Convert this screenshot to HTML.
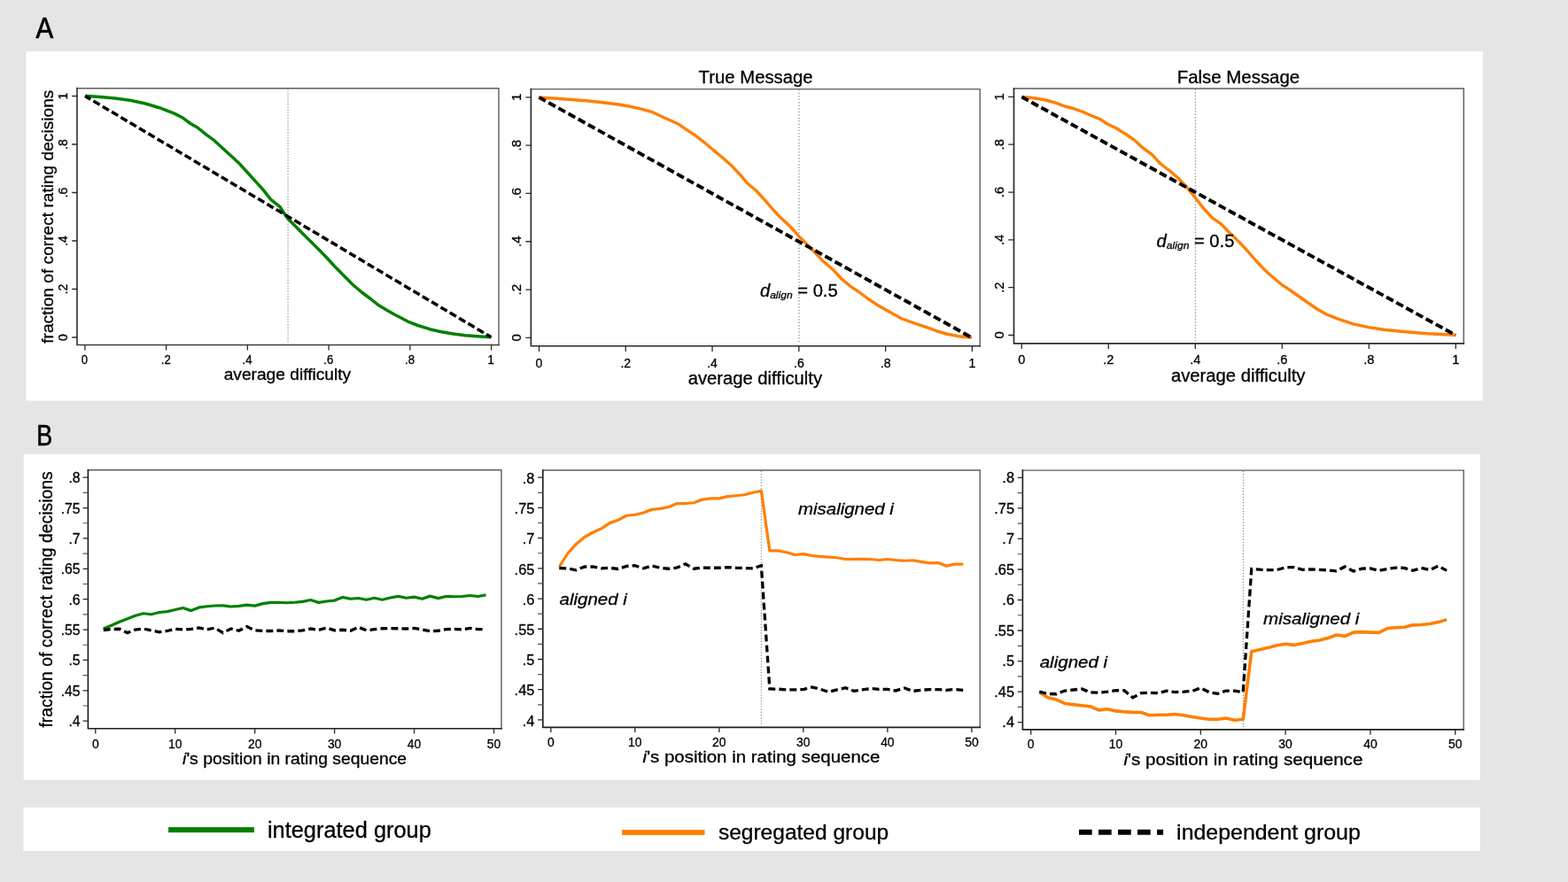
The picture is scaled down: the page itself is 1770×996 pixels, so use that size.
<!DOCTYPE html>
<html lang="en">
<head>
<meta charset="utf-8">
<title>Figure: fraction of correct rating decisions</title>
<style>
html,body{margin:0;padding:0;background:#e5e5e5;}
body{width:1770px;height:996px;overflow:hidden;}
svg{display:block;}
text{white-space:pre;stroke:#000;stroke-width:0.3px;}
</style>
</head>
<body>
<svg width="1770" height="996" viewBox="0 0 1770 996" font-family='"Liberation Sans", sans-serif' stroke-linejoin="round">
<rect x="0" y="0" width="1770" height="996" fill="#e5e5e5"/>
<rect x="29.3" y="58" width="1644.5" height="394.5" fill="#fff"/>
<rect x="26.7" y="512.8" width="1644" height="368" fill="#fff"/>
<rect x="26.4" y="911.8" width="1644.3" height="49.2" fill="#fff"/>
<text transform="translate(40.6 42.8) scale(0.8789 1.0000)" font-size="33.62" text-anchor="start" fill="#000" style="stroke-width:0.7px">A</text>
<text transform="translate(41.15 502.5) scale(0.8162 1.0000)" font-size="32.9" text-anchor="start" fill="#000" style="stroke-width:0.7px">B</text>
<path d="M87 99.7H563V389.5" fill="none" stroke="#5c5c5c" stroke-width="1.4" stroke-linecap="square"/>
<path d="M87 99.7V389.5H563" fill="none" stroke="#3c3c3c" stroke-width="1.7" stroke-linecap="square"/>
<line x1="325.1" y1="101.5" x2="325.1" y2="387" stroke="#9c9c9c" stroke-width="1.35" stroke-dasharray="1.3 1.85"/>
<path d="M96.2 108.3 L113.3 109.5 L130 110.9 L146.7 113.2 L163.3 116.8 L180 121.7 L196.7 128.1 L206.7 133.3 L215 139.5 L223.3 144.3 L233.3 152.3 L242.5 159.2 L251.7 167.8 L261.7 176.8 L270.8 185.3 L280 195.5 L288.3 204.6 L296.7 213.9 L305.8 225.3 L315.8 233.3 L321.7 242.3 L325 247 L333.3 255.3 L341.7 263.7 L350 272 L358.3 280.3 L366.7 288.8 L375 297.8 L380 303.1 L388.3 311.5 L398.3 321.5 L408.3 330 L418.3 337.5 L426.7 344.2 L436.7 350.3 L445 355 L453.3 359.2 L461.7 363.7 L471.7 367.5 L485 371.7 L498.3 374.7 L511.7 377 L525 378.7 L541.7 380 L554.4 380.8" fill="none" stroke="#008000" stroke-width="3.5" stroke-linejoin="round" stroke-linecap="butt"/>
<path d="M96 108.4 L554.5 380.8" fill="none" stroke="#000" stroke-width="3.5" stroke-dasharray="8.3 3.7" stroke-dashoffset="1" stroke-linejoin="miter"/>
<path d="M95.9 389.5V395.4M187.64 389.5V395.4M279.38 389.5V395.4M371.12 389.5V395.4M462.86 389.5V395.4M554.6 389.5V395.4" stroke="#2b2b2b" stroke-width="1.3" fill="none"/>
<text transform="translate(95.5 410.9) scale(0.9400 1.0000)" font-size="14" text-anchor="middle" fill="#000">0</text>
<text transform="translate(187.24 410.9) scale(0.9400 1.0000)" font-size="14" text-anchor="middle" fill="#000">.2</text>
<text transform="translate(278.98 410.9) scale(0.9400 1.0000)" font-size="14" text-anchor="middle" fill="#000">.4</text>
<text transform="translate(370.72 410.9) scale(0.9400 1.0000)" font-size="14" text-anchor="middle" fill="#000">.6</text>
<text transform="translate(462.46 410.9) scale(0.9400 1.0000)" font-size="14" text-anchor="middle" fill="#000">.8</text>
<text transform="translate(554.2 410.9) scale(0.9400 1.0000)" font-size="14" text-anchor="middle" fill="#000">1</text>
<path d="M81.2 381H87M81.2 326.5H87M81.2 272H87M81.2 217.5H87M81.2 163H87M81.2 108.5H87" stroke="#2b2b2b" stroke-width="1.3" fill="none"/>
<text transform="translate(76.3 381) rotate(-90) scale(1.0000 1.0300)" font-size="14" text-anchor="middle" fill="#000">0</text>
<text transform="translate(76.3 326.5) rotate(-90) scale(1.0000 1.0300)" font-size="14" text-anchor="middle" fill="#000">.2</text>
<text transform="translate(76.3 272) rotate(-90) scale(1.0000 1.0300)" font-size="14" text-anchor="middle" fill="#000">.4</text>
<text transform="translate(76.3 217.5) rotate(-90) scale(1.0000 1.0300)" font-size="14" text-anchor="middle" fill="#000">.6</text>
<text transform="translate(76.3 163) rotate(-90) scale(1.0000 1.0300)" font-size="14" text-anchor="middle" fill="#000">.8</text>
<text transform="translate(76.3 108.5) rotate(-90) scale(1.0000 1.0300)" font-size="14" text-anchor="middle" fill="#000">1</text>
<text transform="translate(252.63 429.4) scale(1.0654 1.0000)" font-size="18.01" text-anchor="start" fill="#000">average difficulty</text>
<text transform="translate(59.7 387.79) rotate(-90) scale(1.0000 0.9870)" font-size="19.15" text-anchor="start" fill="#000">fraction of correct rating decisions</text>
<path d="M599.4 100.6H1106.2V390.75" fill="none" stroke="#5c5c5c" stroke-width="1.4" stroke-linecap="square"/>
<path d="M599.4 100.6V390.75H1106.2" fill="none" stroke="#2b2b2b" stroke-width="1.7" stroke-linecap="square"/>
<line x1="902" y1="101.3" x2="902" y2="388" stroke="#8a8a8a" stroke-width="1.3" stroke-dasharray="1.3 2.2"/>
<path d="M608.5 110 L628.3 111.3 L645 112.5 L661.7 113.8 L678.3 115.5 L698.3 118 L711.7 120.3 L725 123.3 L736.7 126.7 L750 133 L765 139.7 L775 146.3 L785 153 L795 160.8 L805 169.2 L815 177.5 L825 186.3 L835 196.7 L843.3 206.7 L853.3 215 L863.3 225.8 L873.3 237.5 L881.7 246.3 L891.7 255.5 L901.7 266.7 L910 275 L918.3 283.3 L928.3 294.2 L940 304.2 L950 315 L960 323.3 L970 330 L980 337.5 L990 344.2 L1003.3 351.7 L1018.3 360 L1033.3 365.3 L1048.3 370.3 L1058.3 374.2 L1068.3 377 L1081.7 379.7 L1097.2 381.3" fill="none" stroke="#ff7f00" stroke-width="3.4" stroke-linejoin="round" stroke-linecap="butt"/>
<path d="M608.4 109.9 L1097.3 381.4" fill="none" stroke="#000" stroke-width="3.9" stroke-dasharray="8.8 3.95" stroke-dashoffset="0.3" stroke-linejoin="miter"/>
<path d="M608.5 390.8V396.9M706.28 390.8V396.9M804.06 390.8V396.9M901.84 390.8V396.9M999.62 390.8V396.9M1097.4 390.8V396.9" stroke="#2b2b2b" stroke-width="1.3" fill="none"/>
<text transform="translate(608.5 414.5) scale(0.9200 1.0000)" font-size="15.3" text-anchor="middle" fill="#000">0</text>
<text transform="translate(706.28 414.5) scale(0.9200 1.0000)" font-size="15.3" text-anchor="middle" fill="#000">.2</text>
<text transform="translate(804.06 414.5) scale(0.9200 1.0000)" font-size="15.3" text-anchor="middle" fill="#000">.4</text>
<text transform="translate(901.84 414.5) scale(0.9200 1.0000)" font-size="15.3" text-anchor="middle" fill="#000">.6</text>
<text transform="translate(999.62 414.5) scale(0.9200 1.0000)" font-size="15.3" text-anchor="middle" fill="#000">.8</text>
<text transform="translate(1097.4 414.5) scale(0.9200 1.0000)" font-size="15.3" text-anchor="middle" fill="#000">1</text>
<path d="M593.4 381.4H599.4M593.4 327.08H599.4M593.4 272.76H599.4M593.4 218.44H599.4M593.4 164.12H599.4M593.4 109.8H599.4" stroke="#2b2b2b" stroke-width="1.3" fill="none"/>
<text transform="translate(588 381.4) rotate(-90) scale(1.0000 1.0000)" font-size="15.2" text-anchor="middle" fill="#000">0</text>
<text transform="translate(588 327.08) rotate(-90) scale(1.0000 1.0000)" font-size="15.2" text-anchor="middle" fill="#000">.2</text>
<text transform="translate(588 272.76) rotate(-90) scale(1.0000 1.0000)" font-size="15.2" text-anchor="middle" fill="#000">.4</text>
<text transform="translate(588 218.44) rotate(-90) scale(1.0000 1.0000)" font-size="15.2" text-anchor="middle" fill="#000">.6</text>
<text transform="translate(588 164.12) rotate(-90) scale(1.0000 1.0000)" font-size="15.2" text-anchor="middle" fill="#000">.8</text>
<text transform="translate(588 109.8) rotate(-90) scale(1.0000 1.0000)" font-size="15.2" text-anchor="middle" fill="#000">1</text>
<text transform="translate(776.69 434.4) scale(1.0253 1.0000)" font-size="19.73" text-anchor="start" fill="#000">average difficulty</text>
<text transform="translate(788.59 93.75) scale(0.9764 1.0000)" font-size="20.8" text-anchor="start" fill="#000">True Message</text>
<path d="M1144.5 100H1652.3V387.95" fill="none" stroke="#5c5c5c" stroke-width="1.4" stroke-linecap="square"/>
<path d="M1144.5 100V387.95H1652.3" fill="none" stroke="#2b2b2b" stroke-width="1.7" stroke-linecap="square"/>
<line x1="1349.4" y1="100.8" x2="1349.4" y2="385" stroke="#8a8a8a" stroke-width="1.3" stroke-dasharray="1.3 2.2"/>
<path d="M1153.5 109.5 L1165 110.5 L1178.3 112.5 L1191.7 116.2 L1201.7 120 L1211.7 122.5 L1223.3 126.7 L1233.3 131.2 L1241.7 134.5 L1250 140 L1260 144.7 L1271.7 152 L1281.7 159.2 L1290 167 L1300 174.2 L1310 185 L1320 192.5 L1330 201.3 L1340 211.7 L1350 224.2 L1358.3 235 L1368.3 245.8 L1378.3 252.8 L1386.7 261.7 L1395 269.6 L1401.7 276.3 L1408.3 283.5 L1418.3 295 L1428.3 305.5 L1436.7 313 L1446.7 321.3 L1456.7 328 L1466.7 335 L1476.7 342 L1486.7 349 L1497.5 355 L1511.7 360.6 L1527.5 365.8 L1545 369.6 L1562 372.2 L1587 374.7 L1611.7 376.7 L1643 378.3" fill="none" stroke="#ff7f00" stroke-width="3.4" stroke-linejoin="round" stroke-linecap="butt"/>
<path d="M1153.4 109.5 L1643.3 378.5" fill="none" stroke="#000" stroke-width="3.9" stroke-dasharray="8.8 3.9" stroke-dashoffset="0.3" stroke-linejoin="miter"/>
<path d="M1153.3 387.95V393.95M1251.3 387.95V393.95M1349.3 387.95V393.95M1447.3 387.95V393.95M1545.3 387.95V393.95M1643.3 387.95V393.95" stroke="#2b2b2b" stroke-width="1.3" fill="none"/>
<text transform="translate(1153.3 411.3) scale(0.9500 1.0000)" font-size="15.3" text-anchor="middle" fill="#000">0</text>
<text transform="translate(1251.3 411.3) scale(0.9500 1.0000)" font-size="15.3" text-anchor="middle" fill="#000">.2</text>
<text transform="translate(1349.3 411.3) scale(0.9500 1.0000)" font-size="15.3" text-anchor="middle" fill="#000">.4</text>
<text transform="translate(1447.3 411.3) scale(0.9500 1.0000)" font-size="15.3" text-anchor="middle" fill="#000">.6</text>
<text transform="translate(1545.3 411.3) scale(0.9500 1.0000)" font-size="15.3" text-anchor="middle" fill="#000">.8</text>
<text transform="translate(1643.3 411.3) scale(0.9500 1.0000)" font-size="15.3" text-anchor="middle" fill="#000">1</text>
<path d="M1138.2 378.5H1144.5M1138.2 324.68H1144.5M1138.2 270.86H1144.5M1138.2 217.04H1144.5M1138.2 163.22H1144.5M1138.2 109.4H1144.5" stroke="#2b2b2b" stroke-width="1.3" fill="none"/>
<text transform="translate(1133 378.5) rotate(-90) scale(1.0000 1.0500)" font-size="14.8" text-anchor="middle" fill="#000">0</text>
<text transform="translate(1133 324.68) rotate(-90) scale(1.0000 1.0500)" font-size="14.8" text-anchor="middle" fill="#000">.2</text>
<text transform="translate(1133 270.86) rotate(-90) scale(1.0000 1.0500)" font-size="14.8" text-anchor="middle" fill="#000">.4</text>
<text transform="translate(1133 217.04) rotate(-90) scale(1.0000 1.0500)" font-size="14.8" text-anchor="middle" fill="#000">.6</text>
<text transform="translate(1133 163.22) rotate(-90) scale(1.0000 1.0500)" font-size="14.8" text-anchor="middle" fill="#000">.8</text>
<text transform="translate(1133 109.4) rotate(-90) scale(1.0000 1.0500)" font-size="14.8" text-anchor="middle" fill="#000">1</text>
<text transform="translate(1321.94 431) scale(1.0264 1.0000)" font-size="19.73" text-anchor="start" fill="#000">average difficulty</text>
<text transform="translate(1328.77 93.5) scale(1.0289 1.0000)" font-size="19.86" text-anchor="start" fill="#000">False Message</text>
<text transform="translate(857.9 334.9) scale(1.0400 1.0000)" font-size="19.4" text-anchor="start" fill="#000"><tspan font-style="italic">d</tspan><tspan font-style="italic" font-size="11.64" dy="2.13">align</tspan><tspan dy="-2.13"> = 0.5</tspan></text>
<text transform="translate(1305.6 279.2) scale(1.0400 1.0000)" font-size="19.4" text-anchor="start" fill="#000"><tspan font-style="italic">d</tspan><tspan font-style="italic" font-size="11.64" dy="2.13">align</tspan><tspan dy="-2.13"> = 0.5</tspan></text>
<path d="M99.4 530.8H566V822.7" fill="none" stroke="#5c5c5c" stroke-width="1.4" stroke-linecap="square"/>
<path d="M99.4 530.8V822.7H566" fill="none" stroke="#1e1e1e" stroke-width="1.65" stroke-linecap="square"/>
<path d="M93.6 814.2H99.4M93.6 779.83H99.4M93.6 745.45H99.4M93.6 711.08H99.4M93.6 676.7H99.4M93.6 642.33H99.4M93.6 607.95H99.4M93.6 573.58H99.4M93.6 539.2H99.4" stroke="#2b2b2b" stroke-width="1.3" fill="none"/>
<path d="M93.6 797.01H99.4M93.6 762.64H99.4M93.6 728.26H99.4M93.6 693.89H99.4M93.6 659.51H99.4M93.6 625.14H99.4M93.6 590.76H99.4M93.6 556.39H99.4" stroke="#555" stroke-width="1.17" fill="none"/>
<text transform="translate(90.6 820.2) scale(0.9300 1.0000)" font-size="17" text-anchor="end" fill="#000">.4</text>
<text transform="translate(90.6 785.83) scale(0.9300 1.0000)" font-size="17" text-anchor="end" fill="#000">.45</text>
<text transform="translate(90.6 751.45) scale(0.9300 1.0000)" font-size="17" text-anchor="end" fill="#000">.5</text>
<text transform="translate(90.6 717.08) scale(0.9300 1.0000)" font-size="17" text-anchor="end" fill="#000">.55</text>
<text transform="translate(90.6 682.7) scale(0.9300 1.0000)" font-size="17" text-anchor="end" fill="#000">.6</text>
<text transform="translate(90.6 648.33) scale(0.9300 1.0000)" font-size="17" text-anchor="end" fill="#000">.65</text>
<text transform="translate(90.6 613.95) scale(0.9300 1.0000)" font-size="17" text-anchor="end" fill="#000">.7</text>
<text transform="translate(90.6 579.58) scale(0.9300 1.0000)" font-size="17" text-anchor="end" fill="#000">.75</text>
<text transform="translate(90.6 545.2) scale(0.9300 1.0000)" font-size="17" text-anchor="end" fill="#000">.8</text>
<path d="M107.8 822.7V828.5M197.74 822.7V828.5M287.68 822.7V828.5M377.62 822.7V828.5M467.56 822.7V828.5M557.5 822.7V828.5" stroke="#2b2b2b" stroke-width="1.3" fill="none"/>
<text transform="translate(107.8 844.6) scale(0.9600 1.0000)" font-size="14.5" text-anchor="middle" fill="#000">0</text>
<text transform="translate(197.74 844.6) scale(0.9600 1.0000)" font-size="14.5" text-anchor="middle" fill="#000">10</text>
<text transform="translate(287.68 844.6) scale(0.9600 1.0000)" font-size="14.5" text-anchor="middle" fill="#000">20</text>
<text transform="translate(377.62 844.6) scale(0.9600 1.0000)" font-size="14.5" text-anchor="middle" fill="#000">30</text>
<text transform="translate(467.56 844.6) scale(0.9600 1.0000)" font-size="14.5" text-anchor="middle" fill="#000">40</text>
<text transform="translate(557.5 844.6) scale(0.9600 1.0000)" font-size="14.5" text-anchor="middle" fill="#000">50</text>
<text transform="translate(206.11 863) scale(1.0465 1.0000)" font-size="18.49" text-anchor="start" fill="#000"><tspan font-style="italic">i</tspan>'s position in rating sequence</text>
<path d="M116.79 710 L125.79 706.25 L134.78 702.25 L143.78 698.75 L152.77 695.25 L161.76 692.75 L170.76 693.75 L179.75 691.5 L188.75 690.62 L197.74 688.5 L206.73 686.5 L215.73 689.62 L224.72 685.88 L233.72 684.75 L242.71 684 L251.7 683.75 L260.7 685 L269.69 684.38 L278.69 683.12 L287.68 684.12 L296.67 681.62 L305.67 680.38 L314.66 680.25 L323.66 680.75 L332.65 680.25 L341.64 679.38 L350.64 677.5 L359.63 680.38 L368.63 679 L377.62 678.12 L386.61 674.38 L395.61 676.25 L404.6 675.5 L413.6 677.25 L422.59 675.25 L431.58 677.25 L440.58 675 L449.57 673.38 L458.57 675.25 L467.56 674.12 L476.55 676.25 L485.55 673.12 L494.54 675.62 L503.54 673.5 L512.53 673.75 L521.52 673.5 L530.52 672.5 L539.51 673.5 L548.51 671.88" fill="none" stroke="#008000" stroke-width="3.25" stroke-linejoin="round" stroke-linecap="butt"/>
<path d="M116.79 711.5 L125.79 710.62 L134.78 710.25 L143.78 714.62 L152.77 711 L161.76 710 L170.76 711.88 L179.75 713.75 L188.75 712.5 L197.74 710.25 L206.73 711 L215.73 710.38 L224.72 709 L233.72 711 L242.71 709 L251.7 714.62 L260.7 710 L269.69 712.25 L278.69 707.5 L287.68 711.88 L296.67 712.5 L305.67 712.5 L314.66 712 L323.66 712.75 L332.65 712.75 L341.64 711.88 L350.64 710 L359.63 711.5 L368.63 709 L377.62 711.88 L386.61 711.25 L395.61 712.25 L404.6 708.25 L413.6 711.88 L422.59 710.62 L431.58 709.75 L440.58 709.62 L449.57 709.75 L458.57 710 L467.56 709.38 L476.55 710.88 L485.55 712.75 L494.54 712.25 L503.54 710.62 L512.53 710.38 L521.52 711 L530.52 709.38 L539.51 710.62 L548.51 710.62" fill="none" stroke="#000" stroke-width="3.3" stroke-dasharray="7.9 4.1" stroke-dashoffset="0" stroke-linejoin="miter"/>
<text transform="translate(58.9 821.59) rotate(-90) scale(1.0000 0.9983)" font-size="19.35" text-anchor="start" fill="#000">fraction of correct rating decisions</text>
<path d="M612.8 531H1106.2V821.3" fill="none" stroke="#5c5c5c" stroke-width="1.4" stroke-linecap="square"/>
<path d="M612.8 531V821.3H1106.2" fill="none" stroke="#1e1e1e" stroke-width="1.65" stroke-linecap="square"/>
<path d="M607 812.9H612.8M607 778.69H612.8M607 744.48H612.8M607 710.26H612.8M607 676.05H612.8M607 641.84H612.8M607 607.62H612.8M607 573.41H612.8M607 539.2H612.8" stroke="#2b2b2b" stroke-width="1.3" fill="none"/>
<path d="M607 795.79H612.8M607 761.58H612.8M607 727.37H612.8M607 693.16H612.8M607 658.94H612.8M607 624.73H612.8M607 590.52H612.8M607 556.31H612.8" stroke="#555" stroke-width="1.17" fill="none"/>
<text transform="translate(603.4 819.7) scale(0.9900 1.0000)" font-size="16.6" text-anchor="end" fill="#000">.4</text>
<text transform="translate(603.4 785.49) scale(0.9900 1.0000)" font-size="16.6" text-anchor="end" fill="#000">.45</text>
<text transform="translate(603.4 751.27) scale(0.9900 1.0000)" font-size="16.6" text-anchor="end" fill="#000">.5</text>
<text transform="translate(603.4 717.06) scale(0.9900 1.0000)" font-size="16.6" text-anchor="end" fill="#000">.55</text>
<text transform="translate(603.4 682.85) scale(0.9900 1.0000)" font-size="16.6" text-anchor="end" fill="#000">.6</text>
<text transform="translate(603.4 648.64) scale(0.9900 1.0000)" font-size="16.6" text-anchor="end" fill="#000">.65</text>
<text transform="translate(603.4 614.42) scale(0.9900 1.0000)" font-size="16.6" text-anchor="end" fill="#000">.7</text>
<text transform="translate(603.4 580.21) scale(0.9900 1.0000)" font-size="16.6" text-anchor="end" fill="#000">.75</text>
<text transform="translate(603.4 546) scale(0.9900 1.0000)" font-size="16.6" text-anchor="end" fill="#000">.8</text>
<path d="M621.8 821.3V827.1M716.82 821.3V827.1M811.84 821.3V827.1M906.86 821.3V827.1M1001.88 821.3V827.1M1096.9 821.3V827.1" stroke="#2b2b2b" stroke-width="1.3" fill="none"/>
<text transform="translate(621.8 843) scale(0.9600 1.0000)" font-size="14.5" text-anchor="middle" fill="#000">0</text>
<text transform="translate(716.82 843) scale(0.9600 1.0000)" font-size="14.5" text-anchor="middle" fill="#000">10</text>
<text transform="translate(811.84 843) scale(0.9600 1.0000)" font-size="14.5" text-anchor="middle" fill="#000">20</text>
<text transform="translate(906.86 843) scale(0.9600 1.0000)" font-size="14.5" text-anchor="middle" fill="#000">30</text>
<text transform="translate(1001.88 843) scale(0.9600 1.0000)" font-size="14.5" text-anchor="middle" fill="#000">40</text>
<text transform="translate(1096.9 843) scale(0.9600 1.0000)" font-size="14.5" text-anchor="middle" fill="#000">50</text>
<text transform="translate(725.6 861.2) scale(1.1066 1.0000)" font-size="18.49" text-anchor="start" fill="#000"><tspan font-style="italic">i</tspan>'s position in rating sequence</text>
<line x1="859.4" y1="531.8" x2="859.4" y2="819" stroke="#909090" stroke-width="1.3" stroke-dasharray="1.2 2.0"/>
<path d="M631.3 640 L640.8 625 L650.31 614.38 L659.81 606.5 L669.31 601.25 L678.81 596.88 L688.31 590.62 L697.82 587.25 L707.32 582.25 L716.82 581.25 L726.32 579 L735.82 575.38 L745.33 574.38 L754.83 572.5 L764.33 568.5 L773.83 568.5 L783.33 567.75 L792.84 564.12 L802.34 562.88 L811.84 562.88 L821.34 560.62 L830.84 559.75 L840.35 558.75 L849.85 556.25 L859.35 554.38 L868.85 621.88 L878.35 621.88 L887.86 623.75 L897.36 626.5 L906.86 625.62 L916.36 627.5 L925.86 628.38 L935.37 629.12 L944.87 629.75 L954.37 631.5 L963.87 631.25 L973.37 631.25 L982.88 631.5 L992.38 632.5 L1001.88 631.5 L1011.38 632.5 L1020.88 633.25 L1030.39 632.75 L1039.89 634.38 L1049.39 635.88 L1058.89 635.5 L1068.39 639.12 L1077.9 637 L1087.4 637" fill="none" stroke="#ff7f00" stroke-width="3.25" stroke-linejoin="round" stroke-linecap="butt"/>
<path d="M631.3 641.5 L640.8 641.88 L650.31 643.75 L659.81 640 L669.31 640 L678.81 641.88 L688.31 641.25 L697.82 642.5 L707.32 639.38 L716.82 638.75 L726.32 641.88 L735.82 639 L745.33 641.25 L754.83 642.25 L764.33 641 L773.83 636.88 L783.33 642.25 L792.84 641 L802.34 641.25 L811.84 641.25 L821.34 640.62 L830.84 641.25 L840.35 641.5 L849.85 641.88 L859.35 638.75 L868.85 777.88 L878.35 778.17 L887.86 778.91 L897.36 778.91 L906.86 778.61 L916.36 775.96 L925.86 778.17 L935.37 781.42 L944.87 778.91 L954.37 776.7 L963.87 780.38 L973.37 778.91 L982.88 777.43 L992.38 778.47 L1001.88 778.47 L1011.38 779.94 L1020.88 776.99 L1030.39 780.38 L1039.89 779.2 L1049.39 778.61 L1058.89 778.61 L1068.39 779.35 L1077.9 778.47 L1087.4 779.35" fill="none" stroke="#000" stroke-width="3.3" stroke-dasharray="7.9 4.1" stroke-dashoffset="0" stroke-linejoin="miter"/>
<text transform="translate(901.1 580.6) scale(1.0872 1.0000)" font-size="18.77" text-anchor="start" font-style="italic" fill="#000">misaligned i</text>
<text transform="translate(631.49 683.1) scale(1.0934 1.0000)" font-size="18.77" text-anchor="start" font-style="italic" fill="#000">aligned i</text>
<path d="M1154.4 531.1H1652.2V823.9" fill="none" stroke="#5c5c5c" stroke-width="1.4" stroke-linecap="square"/>
<path d="M1154.4 531.1V823.9H1652.2" fill="none" stroke="#1e1e1e" stroke-width="1.65" stroke-linecap="square"/>
<path d="M1148.6 815.6H1154.4M1148.6 781.08H1154.4M1148.6 746.55H1154.4M1148.6 712.02H1154.4M1148.6 677.5H1154.4M1148.6 642.98H1154.4M1148.6 608.45H1154.4M1148.6 573.92H1154.4M1148.6 539.4H1154.4" stroke="#2b2b2b" stroke-width="1.3" fill="none"/>
<path d="M1148.6 798.34H1154.4M1148.6 763.81H1154.4M1148.6 729.29H1154.4M1148.6 694.76H1154.4M1148.6 660.24H1154.4M1148.6 625.71H1154.4M1148.6 591.19H1154.4M1148.6 556.66H1154.4" stroke="#555" stroke-width="1.17" fill="none"/>
<text transform="translate(1145 821.4) scale(1.0300 1.0000)" font-size="15.9" text-anchor="end" fill="#000">.4</text>
<text transform="translate(1145 786.88) scale(1.0300 1.0000)" font-size="15.9" text-anchor="end" fill="#000">.45</text>
<text transform="translate(1145 752.35) scale(1.0300 1.0000)" font-size="15.9" text-anchor="end" fill="#000">.5</text>
<text transform="translate(1145 717.82) scale(1.0300 1.0000)" font-size="15.9" text-anchor="end" fill="#000">.55</text>
<text transform="translate(1145 683.3) scale(1.0300 1.0000)" font-size="15.9" text-anchor="end" fill="#000">.6</text>
<text transform="translate(1145 648.77) scale(1.0300 1.0000)" font-size="15.9" text-anchor="end" fill="#000">.65</text>
<text transform="translate(1145 614.25) scale(1.0300 1.0000)" font-size="15.9" text-anchor="end" fill="#000">.7</text>
<text transform="translate(1145 579.72) scale(1.0300 1.0000)" font-size="15.9" text-anchor="end" fill="#000">.75</text>
<text transform="translate(1145 545.2) scale(1.0300 1.0000)" font-size="15.9" text-anchor="end" fill="#000">.8</text>
<path d="M1163.7 823.9V829.7M1259.5 823.9V829.7M1355.3 823.9V829.7M1451.1 823.9V829.7M1546.9 823.9V829.7M1642.7 823.9V829.7" stroke="#2b2b2b" stroke-width="1.3" fill="none"/>
<text transform="translate(1163.7 845.4) scale(0.9600 1.0000)" font-size="14.5" text-anchor="middle" fill="#000">0</text>
<text transform="translate(1259.5 845.4) scale(0.9600 1.0000)" font-size="14.5" text-anchor="middle" fill="#000">10</text>
<text transform="translate(1355.3 845.4) scale(0.9600 1.0000)" font-size="14.5" text-anchor="middle" fill="#000">20</text>
<text transform="translate(1451.1 845.4) scale(0.9600 1.0000)" font-size="14.5" text-anchor="middle" fill="#000">30</text>
<text transform="translate(1546.9 845.4) scale(0.9600 1.0000)" font-size="14.5" text-anchor="middle" fill="#000">40</text>
<text transform="translate(1642.7 845.4) scale(0.9600 1.0000)" font-size="14.5" text-anchor="middle" fill="#000">50</text>
<text transform="translate(1268.39 864.2) scale(1.0995 1.0000)" font-size="18.77" text-anchor="start" fill="#000"><tspan font-style="italic">i</tspan>'s position in rating sequence</text>
<line x1="1403.4" y1="531.9" x2="1403.4" y2="821.5" stroke="#909090" stroke-width="1.3" stroke-dasharray="1.2 2.0"/>
<path d="M1173.28 781.65 L1182.86 787.85 L1192.44 790.06 L1202.02 794.48 L1211.6 795.66 L1221.18 796.7 L1230.76 797.73 L1240.34 801.86 L1249.92 800.83 L1259.5 802.89 L1269.08 803.78 L1278.66 804.37 L1288.24 804.51 L1297.82 807.76 L1307.4 807.32 L1316.98 807.32 L1326.56 806.58 L1336.14 807.76 L1345.72 809.53 L1355.3 811 L1364.88 812.18 L1374.46 812.18 L1384.04 811 L1393.62 813.22 L1403.2 812.18 L1412.78 735.78 L1422.36 733.57 L1431.94 731.36 L1441.52 728.7 L1451.1 727.23 L1460.68 728.41 L1470.26 726.49 L1479.84 724.28 L1489.42 722.95 L1499 720.59 L1508.58 717.05 L1518.16 718.38 L1527.74 714.1 L1537.32 713.66 L1546.9 714.1 L1556.48 714.4 L1566.06 709.53 L1575.64 708.79 L1585.22 708.2 L1594.8 705.84 L1604.38 705.55 L1613.96 704.51 L1623.54 702.6 L1633.12 699.65" fill="none" stroke="#ff7f00" stroke-width="3.6" stroke-linejoin="round" stroke-linecap="butt"/>
<path d="M1173.28 781.21 L1182.86 783.42 L1192.44 783.72 L1202.02 780.03 L1211.6 779 L1221.18 777.96 L1230.76 781.95 L1240.34 782.24 L1249.92 781.21 L1259.5 779.73 L1269.08 779.73 L1278.66 787.85 L1288.24 782.68 L1297.82 782.24 L1307.4 782.68 L1316.98 780.18 L1326.56 781.65 L1336.14 781.21 L1345.72 780.47 L1355.3 776.78 L1364.88 781.65 L1374.46 783.42 L1384.04 780.03 L1393.62 780.18 L1403.2 781.65 L1412.78 642.42 L1422.36 643.16 L1431.94 643.6 L1441.52 643.6 L1451.1 640.65 L1460.68 640.65 L1470.26 643.3 L1479.84 642.86 L1489.42 643.3 L1499 643.89 L1508.58 644.78 L1518.16 639.91 L1527.74 645.07 L1537.32 642.12 L1546.9 641.83 L1556.48 644.34 L1566.06 642.42 L1575.64 641.09 L1585.22 641.39 L1594.8 644.34 L1604.38 641.39 L1613.96 643.6 L1623.54 639.17 L1633.12 644.34" fill="none" stroke="#000" stroke-width="3.3" stroke-dasharray="7.9 4.1" stroke-dashoffset="0" stroke-linejoin="miter"/>
<text transform="translate(1426.09 705.3) scale(1.1104 1.0000)" font-size="18.49" text-anchor="start" font-style="italic" fill="#000">misaligned i</text>
<text transform="translate(1173.69 753.9) scale(1.1111 1.0000)" font-size="18.49" text-anchor="start" font-style="italic" fill="#000">aligned i</text>
<rect x="190.1" y="934.1" width="96.8" height="6.0" fill="#008000"/>
<rect x="702.1" y="937.1" width="93.4" height="5.85" fill="#ff7f00"/>
<path d="M1218 939.75H1313.1" stroke="#000" stroke-width="5.9" stroke-dasharray="14.7 7.3" fill="none"/>
<text transform="translate(301.88 945.6) scale(1.0191 1.0000)" font-size="24.93" text-anchor="start" fill="#000">integrated group</text>
<text transform="translate(810.91 948) scale(1.0179 1.0000)" font-size="24.11" text-anchor="start" fill="#000">segregated group</text>
<text transform="translate(1328.11 948) scale(1.0333 1.0000)" font-size="24.11" text-anchor="start" fill="#000">independent group</text>
</svg>
</body>
</html>
